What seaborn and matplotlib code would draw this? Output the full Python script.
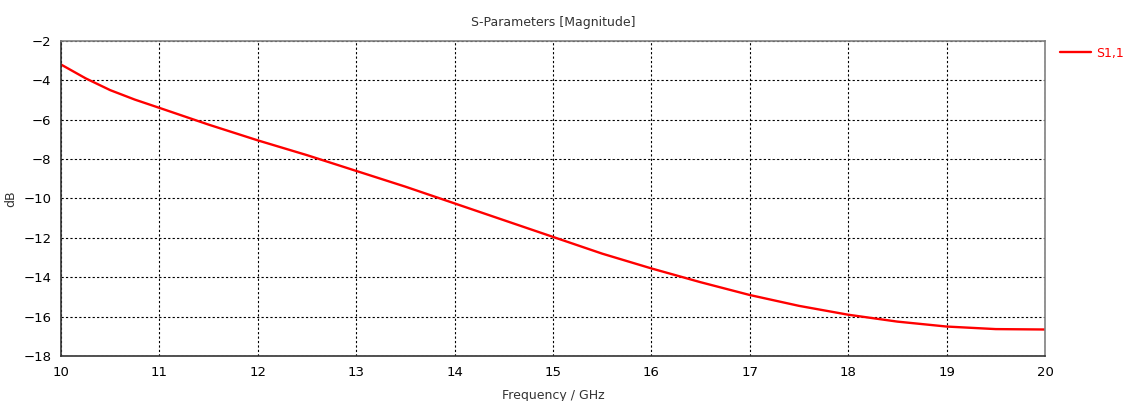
import pandas as pd
import matplotlib
matplotlib.use("Agg")
import matplotlib.pyplot as plt
import seaborn as sns

# --- DATA ---
freq = [10.0, 10.25, 10.5, 10.75, 11.0, 11.5, 12.0, 12.5, 13.0, 13.5, 14.0,
        14.5, 15.0, 15.5, 16.0, 16.5, 17.0, 17.5, 18.0, 18.5, 19.0, 19.5, 20.0]
s11 = [-3.2, -3.9, -4.5, -4.98, -5.4, -6.25, -7.05, -7.8, -8.6, -9.4, -10.25,
       -11.1, -11.95, -12.8, -13.55, -14.25, -14.9, -15.45, -15.9, -16.25,
       -16.5, -16.63, -16.65]
x_ticks = list(range(10, 21))
y_ticks = list(range(-18, -1, 2))

df = pd.DataFrame({"Frequency": freq, "S1,1": s11})

sns.set_style("white")
plt.rcParams["font.family"] = ["DejaVu Sans"]

fig = plt.figure(figsize=(11.24, 4.01), dpi=100)
ax = fig.add_axes([0.0543, 0.112, 0.8754, 0.786])

sns.lineplot(data=df, x="Frequency", y="S1,1", color="#ff0000", linewidth=1.7,
             label="S1,1", ax=ax)

ax.set_xlim(10, 20)
ax.set_ylim(-18, -2)
ax.set_xticks(x_ticks)
ax.set_yticks(y_ticks)
ax.grid(True, color="black", linestyle=(0, (2, 2)), linewidth=0.8)
ax.tick_params(direction="out", length=4, width=1, colors="black", labelsize=9.5, pad=3)
for side in ["left", "bottom"]:
    ax.spines[side].set_color("#333333")
    ax.spines[side].set_linewidth(1.2)
for side in ["top", "right"]:
    ax.spines[side].set_color("#808080")
    ax.spines[side].set_linewidth(1.2)

ax.set_title("S-Parameters [Magnitude]", fontsize=9, color="#333333", pad=11)
ax.set_xlabel("Frequency / GHz", fontsize=9, color="#333333", labelpad=7)
ax.set_ylabel("dB", fontsize=9, color="#333333", labelpad=4)

# legend outside on the right, like the CST export
leg = ax.legend(loc="center left", bbox_to_anchor=(1060 / 1124, 1 - 53 / 401),
                bbox_transform=fig.transFigure, frameon=False, borderpad=0,
                borderaxespad=0, fontsize=9, handlelength=2.5, handletextpad=0.4)
for t in leg.get_texts():
    t.set_color("#ff0000")

fig.savefig("out.png", dpi=100)
